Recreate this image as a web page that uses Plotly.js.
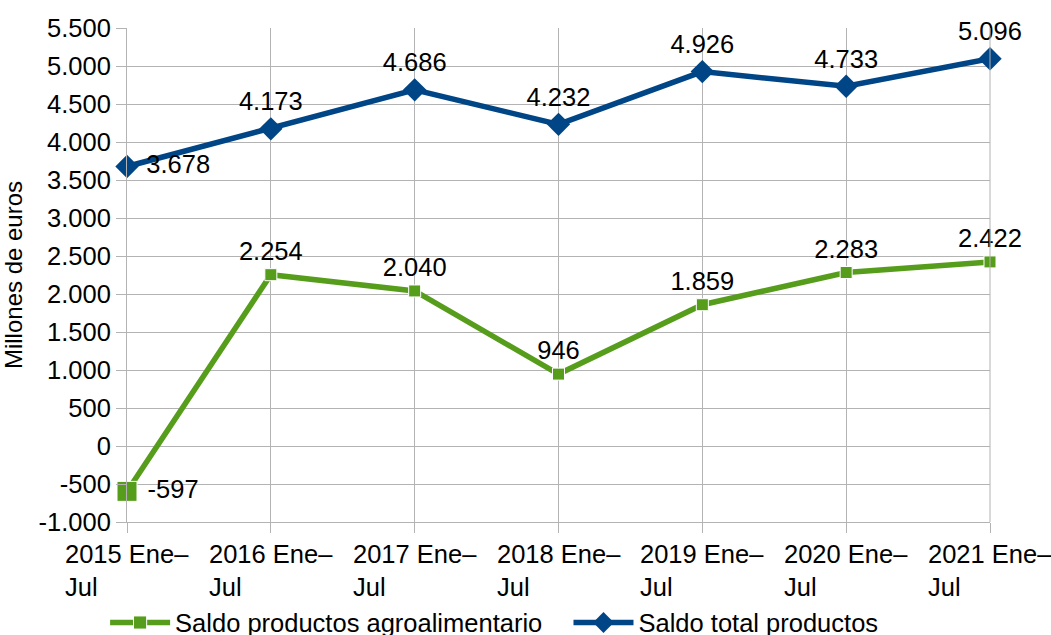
<!DOCTYPE html>
<html>
<head>
<meta charset="utf-8">
<script src="https://cdn.plot.ly/plotly-3.0.1.min.js"></script>
<style>
  html, body { margin: 0; padding: 0; background: #fff; }
  #chart { width: 1051px; height: 635px; }
</style>
</head>
<body>
<div id="chart"></div>
<script>
// Saldo comercial Ene–Jul, millones de euros
const periods = ["2015 Ene–<br>Jul", "2016 Ene–<br>Jul", "2017 Ene–<br>Jul", "2018 Ene–<br>Jul",
                 "2019 Ene–<br>Jul", "2020 Ene–<br>Jul", "2021 Ene–<br>Jul"];
const agro = [-597, 2254, 2040, 946, 1859, 2283, 2422];
const total = [3678, 4173, 4686, 4232, 4926, 4733, 5096];
const yTicks = [-1000, -500, 0, 500, 1000, 1500, 2000, 2500, 3000, 3500, 4000, 4500, 5000, 5500];

const FONT = "Liberation Sans, Arial, sans-serif";
const FS = 25.5;
const GAP = "\u00a0\u00a0\u00a0"; // extra room between the two legend entries
const xs = periods.map((_, i) => i);

function fmt(n) {
  // Spanish thousands separator
  const s = Math.abs(n).toString().replace(/\B(?=(\d{3})+(?!\d))/g, ".");
  return (n < 0 ? "-" : "") + s;
}

const traces = [
  {
    x: xs, y: agro, name: "Saldo productos agroalimentario" + GAP,
    mode: "lines+markers+text",
    line: { color: "#579d1c", width: 5.5 },
    marker: { symbol: "square", color: "#579d1c", opacity: 1,
              size: agro.map((_, i) => i === 0 ? 20 : 12) },
    text: agro.map((v, i) => i === 0 ? " " + fmt(v) : fmt(v)),
    textposition: agro.map((_, i) => i === 0 ? "middle right" : "top center"),
    textfont: { family: FONT, size: FS, color: "#000" },
    cliponaxis: false, hoverinfo: "none",
  },
  {
    x: xs, y: total, name: "Saldo total productos",
    mode: "lines+markers+text",
    line: { color: "#004586", width: 5.5 },
    marker: { symbol: "diamond", color: "#004586", size: 18 },
    text: total.map((v, i) => i === 0 ? " " + fmt(v) : fmt(v)),
    textposition: total.map((_, i) => i === 0 ? "middle right" : "top center"),
    textfont: { family: FONT, size: FS, color: "#000" },
    cliponaxis: false, hoverinfo: "none",
  },
];

// category labels: two-line, left aligned, block centred on the tick
const labelNotes = periods.map((p, i) => ({
  x: i, y: 0, xref: "x", yref: "paper", yanchor: "top", xanchor: "center",
  yshift: -16, text: p, align: "left", showarrow: false,
  font: { family: FONT, size: FS, color: "#000" },
}));

const layout = {
  width: 1051, height: 635,
  paper_bgcolor: "#fff", plot_bgcolor: "#fff",
  font: { family: FONT, size: FS, color: "#000" },
  margin: { l: 127, r: 61, t: 28, b: 113, autoexpand: false },
  showlegend: true,
  legend: {
    orientation: "h", xref: "container", yref: "container",
    x: 0.1, xanchor: "left", y: 0.019, yanchor: "middle",
    font: { family: FONT, size: FS, color: "#000" }, itemwidth: 60,
    traceorder: "normal",
  },
  xaxis: {
    range: [0, 6], tickvals: xs, showticklabels: false,
    showgrid: true, gridcolor: "#b3b3b3", gridwidth: 1,
    ticks: "outside", ticklen: 10, tickcolor: "#b3b3b3",
    showline: true, linecolor: "#b3b3b3", mirror: false, zeroline: false,
  },
  yaxis: {
    range: [-1000, 5500], tickvals: yTicks, ticktext: yTicks.map(fmt),
    showgrid: true, gridcolor: "#b3b3b3", gridwidth: 1,
    ticks: "outside", ticklen: 10, tickcolor: "#b3b3b3",
    showline: true, linecolor: "#b3b3b3", zeroline: false,
    title: { text: "Millones de euros", standoff: 12, font: { family: FONT, size: 24, color: "#000" } },
  },
  annotations: labelNotes,
  shapes: [{ type: "line", xref: "paper", yref: "paper", x0: 1, x1: 1, y0: 0, y1: 1,
             line: { color: "#b3b3b3", width: 1 } }],
};

Plotly.newPlot("chart", traces, layout, { displayModeBar: false, staticPlot: true });
</script>
</body>
</html>
